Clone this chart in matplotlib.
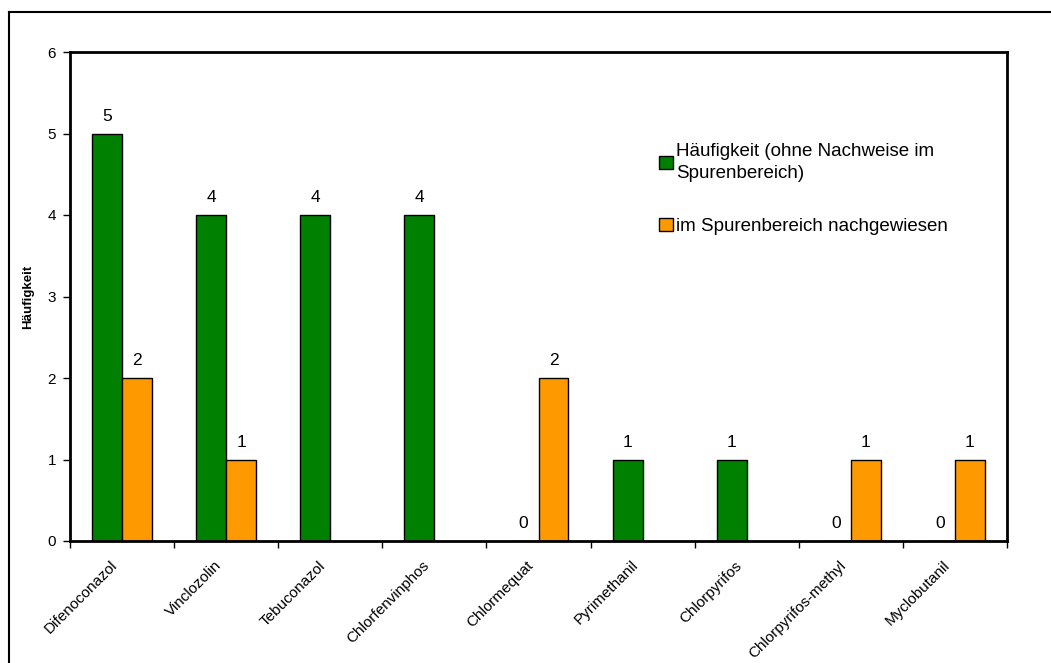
import matplotlib
matplotlib.use("Agg")
import matplotlib.pyplot as plt
import numpy as np
from matplotlib.lines import Line2D

plt.rcParams['font.family'] = ['Liberation Sans', 'DejaVu Sans']

substances = ['Difenoconazol', 'Vinclozolin', 'Tebuconazol', 'Chlorfenvinphos',
              'Chlormequat', 'Pyrimethanil', 'Chlorpyrifos', 'Chlorpyrifos-methyl',
              'Myclobutanil']
# counts without trace detections (0 = explicit zero, shown with label)
counts_main = [5, 4, 4, 4, 0, 1, 1, 0, 0]
# counts detected only in trace range (None = no entry)
counts_trace = [2, 1, None, None, 2, None, None, 1, 1]

label_main = 'Häufigkeit (ohne Nachweise im\nSpurenbereich)'
label_trace = 'im Spurenbereich nachgewiesen'

W, H = 1051, 663
fig = plt.figure(figsize=(W / 100, H / 100), dpi=100)
ax = fig.add_axes([70 / W, (H - 541) / H, (1007 - 70) / W, (541 - 52) / H])

x = np.arange(len(substances))
bw = 0.288

for i in x:
    v = counts_main[i]
    if v is not None:
        ax.bar(i - bw / 2, v, bw, color='#008000', edgecolor='black', linewidth=1)
        ax.annotate(str(v), (i - bw / 2, v), xytext=(0, 7), textcoords='offset points',
                    ha='center', va='bottom', fontsize=12.5)
    v = counts_trace[i]
    if v is not None:
        ax.bar(i + bw / 2, v, bw, color='#FF9900', edgecolor='black', linewidth=1)
        ax.annotate(str(v), (i + bw / 2, v), xytext=(0, 7), textcoords='offset points',
                    ha='center', va='bottom', fontsize=12.5)

ax.set_xlim(-0.5, len(substances) - 0.5)
ax.set_ylim(0, 6)
ax.set_yticks(range(7))
ax.tick_params(axis='y', labelsize=11, length=5, width=1, direction='out', pad=5)

# ticks between categories, labels at category centres
ax.set_xticks(np.arange(len(substances) + 1) - 0.5)
ax.set_xticklabels([])
ax.tick_params(axis='x', length=5, width=1, direction='out')
for i, name in enumerate(substances):
    ax.annotate(name, (i, 0), xytext=(-5, -16), textcoords='offset points',
                rotation=45, rotation_mode='anchor', ha='right', va='center',
                fontsize=11)

for s in ax.spines.values():
    s.set_linewidth(2)

ax.set_ylabel('Häufigkeit', fontsize=9.5, fontweight='bold', labelpad=10)

handles = [plt.Rectangle((0, 0), 1, 1, facecolor='#008000', edgecolor='black', linewidth=1),
           plt.Rectangle((0, 0), 1, 1, facecolor='#FF9900', edgecolor='black', linewidth=1)]
leg = fig.legend(handles, [label_main, label_trace], loc='upper left',
                 bbox_to_anchor=(650 / W, 1 - 134 / H), frameon=False, fontsize=13.5,
                 handlelength=0.7, handleheight=0.7, handletextpad=0.2,
                 labelspacing=1.9, borderpad=0)
for t in leg.get_texts():
    t.set_linespacing(1.35)

# frame around the chart area
fig.add_artist(Line2D([9 / W, 9 / W], [0, 1 - 12 / H], color='black', linewidth=1.5))
fig.add_artist(Line2D([9 / W, 1], [1 - 12 / H, 1 - 12 / H], color='black', linewidth=1.5))

fig.savefig('out.png', dpi=100)
